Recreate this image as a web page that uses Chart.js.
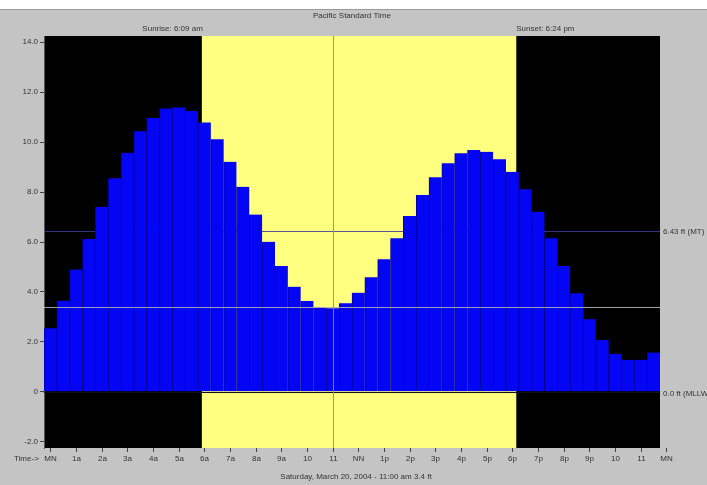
<!DOCTYPE html>
<html>
<head>
<meta charset="utf-8">
<script src="https://cdn.jsdelivr.net/npm/chart.js@4/dist/chart.umd.min.js"></script>
<style>
  html, body { margin: 0; padding: 0; background: #c4c4c4; }
  #wrap { width: 707px; height: 485px; position: relative; }
</style>
</head>
<body>
<div id="wrap"><canvas id="tide"></canvas></div>
<script>
// Tide height (ft) every half hour from midnight
const tideFt = [
  2.55, 3.65, 4.9, 6.12, 7.41, 8.55, 9.57, 10.44, 10.97, 11.35, 11.39, 11.25,
  10.79, 10.11, 9.21, 8.21, 7.1, 6.01, 5.04, 4.21, 3.64, 3.38, 3.35, 3.55,
  3.97, 4.59, 5.31, 6.15, 7.04, 7.88, 8.59, 9.15, 9.55, 9.68, 9.61, 9.31,
  8.81, 8.11, 7.21, 6.15, 5.04, 3.95, 2.91, 2.08, 1.52, 1.28, 1.28, 1.57,
];
const stepHours = 0.5;

// Hour tick labels, midnight to midnight
const hourLabels = ['MN', '1a', '2a', '3a', '4a', '5a', '6a', '7a', '8a', '9a', '10', '11',
  'NN', '1p', '2p', '3p', '4p', '5p', '6p', '7p', '8p', '9p', '10', '11', 'MN'];
const yTickValues = [-2, 0, 2, 4, 6, 8, 10, 12, 14];

// Reference levels and markers
const mtlFt = 6.43;
const sunriseHour = 6.15;   // 6:09 am
const sunsetHour = 18.4;    // 6:24 pm
const currentHour = 11;
const currentFt = 3.4;

const FONT = '"Liberation Sans Narrow", "Liberation Sans", Arial, sans-serif';
const TEXT = '#333333';

const tidePlugin = {
  id: 'tidePlugin',
  beforeDraw(chart) {
    const { ctx, chartArea: a, scales: { x, y } } = chart;
    ctx.save();
    // page background
    ctx.fillStyle = '#c4c4c4';
    ctx.fillRect(0, 0, chart.width, chart.height);
    ctx.fillStyle = '#ffffff';
    ctx.fillRect(0, 0, chart.width, 9);
    ctx.fillStyle = '#9a9a9a';
    ctx.fillRect(0, 9, chart.width, 1);

    // night
    ctx.fillStyle = '#000000';
    ctx.fillRect(a.left, a.top, a.right - a.left, a.bottom - a.top);

    // daylight band, measured from the plot's left edge
    const sx = x.getPixelForValue(x.min + sunriseHour);
    const ex = x.getPixelForValue(x.min + sunsetHour);
    ctx.fillStyle = '#ffff80';
    ctx.fillRect(sx, a.top, ex - sx, a.bottom - a.top);

    // mean tide level line (behind bars)
    const my = Math.round(y.getPixelForValue(mtlFt)) + 0.5;
    ctx.strokeStyle = '#3a3a9a';
    ctx.globalAlpha = 0.85;
    ctx.lineWidth = 1;
    ctx.beginPath();
    ctx.moveTo(a.left, my);
    ctx.lineTo(a.right, my);
    ctx.stroke();
    ctx.restore();
  },
  afterDatasetsDraw(chart) {
    const { ctx, chartArea: a, scales: { x, y } } = chart;
    ctx.save();
    ctx.lineWidth = 1;

    // zero line
    const zy = Math.round(y.getPixelForValue(0)) + 0.5;
    ctx.strokeStyle = '#101010';
    ctx.beginPath();
    ctx.moveTo(a.left, zy);
    ctx.lineTo(a.right, zy);
    ctx.stroke();

    // current level and time
    const cy = Math.round(y.getPixelForValue(currentFt)) + 0.5;
    ctx.strokeStyle = 'rgba(175,175,175,0.9)';
    ctx.beginPath();
    ctx.moveTo(a.left, cy);
    ctx.lineTo(a.right, cy);
    ctx.stroke();

    const cx = Math.round(x.getPixelForValue(currentHour)) + 0.5;
    ctx.strokeStyle = 'rgba(140,140,140,0.9)';
    ctx.beginPath();
    ctx.moveTo(cx, a.top);
    ctx.lineTo(cx, a.bottom);
    ctx.stroke();
    ctx.restore();
  },
  afterDraw(chart) {
    const { ctx, chartArea: a, scales: { x, y } } = chart;
    ctx.save();
    ctx.fillStyle = TEXT;
    ctx.font = '8px ' + FONT;
    ctx.textBaseline = 'middle';

    ctx.textAlign = 'center';
    ctx.fillText('Pacific Standard Time', 352, 16);

    const sx = x.getPixelForValue(x.min + sunriseHour);
    const ex = x.getPixelForValue(x.min + sunsetHour);
    ctx.textAlign = 'right';
    ctx.fillText('Sunrise: 6:09 am', sx + 1, 29);
    ctx.textAlign = 'left';
    ctx.fillText('Sunset: 6:24 pm', ex, 29);

    // right side level labels
    ctx.fillText(mtlFt.toFixed(2) + ' ft (MT)', a.right + 3, y.getPixelForValue(mtlFt) + 1);
    ctx.fillText('0.0 ft (MLLW)', a.right + 3, y.getPixelForValue(0) + 2);

    // hour axis
    ctx.strokeStyle = '#444';
    ctx.lineWidth = 1;
    ctx.textAlign = 'center';
    hourLabels.forEach((lab, h) => {
      const px = Math.round(x.getPixelForValue(h)) + 0.5;
      ctx.beginPath();
      ctx.moveTo(px, a.bottom);
      ctx.lineTo(px, a.bottom + 4);
      ctx.stroke();
      ctx.fillText(lab, px, a.bottom + 11);
    });
    ctx.textAlign = 'left';
    ctx.fillText('Time->', 14, a.bottom + 11);

    ctx.textAlign = 'center';
    ctx.fillText('Saturday, March 20, 2004 - 11:00 am 3.4 ft', 356, 477);
    ctx.restore();
  },
};

const ctx = document.getElementById('tide').getContext('2d');
new Chart(ctx, {
  type: 'bar',
  data: {
    datasets: [{
      label: 'Tide',
      data: tideFt.map((v, i) => ({ x: i * stepHours, y: v })),
      backgroundColor: '#0505f5',
      borderColor: '#00009a',
      borderWidth: { left: 1, right: 0, top: 0, bottom: 0 },
      borderSkipped: false,
      barPercentage: 1,
      categoryPercentage: 1,
    }],
  },
  options: {
    responsive: true,
    maintainAspectRatio: false,
    animation: false,
    layout: { padding: { left: 0, right: 47, top: 36, bottom: 37 } },
    plugins: {
      legend: { display: false },
      tooltip: { enabled: false },
    },
    scales: {
      x: {
        type: 'linear',
        display: false,
        offset: false,
        min: -stepHours / 2,
        max: 24 - stepHours / 2,
      },
      y: {
        min: -2.25,
        max: 14.25,
        afterBuildTicks: s => { s.ticks = yTickValues.map(v => ({ value: v })); },
        afterFit: s => { s.width = 44; },
        ticks: {
          font: { size: 8, family: FONT },
          color: TEXT,
          padding: 2,
          callback: v => (v === 0 ? '0' : v.toFixed(1)),
        },
        grid: { drawOnChartArea: false, tickLength: 4, color: '#444' },
        border: { display: true, color: '#555' },
      },
    },
  },
  plugins: [tidePlugin],
});
</script>
</body>
</html>
